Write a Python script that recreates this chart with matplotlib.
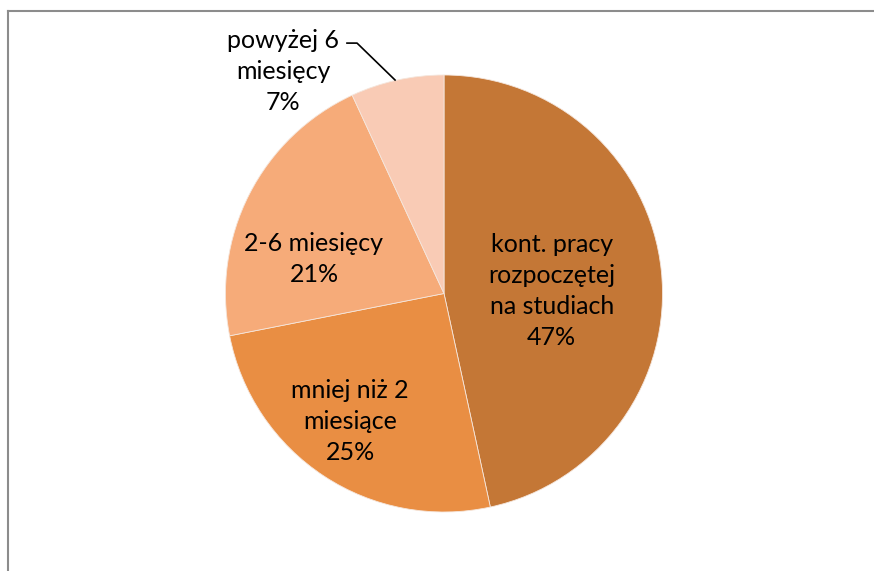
import matplotlib
matplotlib.use("Agg")
import matplotlib.pyplot as plt
from matplotlib.lines import Line2D

# --- data ---
labels = ["kont. pracy\nrozpoczętej\nna studiach", "mniej niż 2\nmiesiące", "2-6 miesięcy", "powyżej 6\nmiesięcy"]
values = [46.6, 25.3, 21.2, 6.9]
colors = ["#C47736", "#E98E43", "#F6AB79", "#F9CBB5"]

# label centres (pie radius = 1, centre at 0,0)
label_pos = [(0.493, 0.010), (-0.430, -0.588), (-0.595, 0.160), (-0.735, 1.016)]

fig = plt.figure(figsize=(8.74, 5.71), dpi=100)
ax = fig.add_axes([0, 0, 1, 1])

r_px = 218.5
cx, cy = 444, 293.5
ax.pie(values, colors=colors, startangle=90, counterclock=False, radius=1,
       wedgeprops={"edgecolor": "#f5e6dc", "linewidth": 0.6})
ax.set_aspect("auto")
ax.set_xlim(-cx / r_px, (874 - cx) / r_px)
ax.set_ylim(-(571 - cy) / r_px, cy / r_px)
ax.axis("off")

total = sum(values)
for lab, v, (x, y) in zip(labels, values, label_pos):
    ax.text(x, y, f"{lab}\n{v / total * 100:.0f}%", ha="center", va="center",
            fontsize=18, family=["Lato", "DejaVu Sans"], linespacing=1.42, color="black")

# leader line for the small slice
ax.plot([-0.444, -0.398, -0.224], [1.146, 1.146, 0.977], color="black", lw=1.2)

# chart frame (only left and top edges visible)
fig.add_artist(Line2D([7.5 / 874, 7.5 / 874], [0, 1 - 10.5 / 571], transform=fig.transFigure,
                      color="#8c8c8c", lw=1.5))
fig.add_artist(Line2D([7.5 / 874, 1], [1 - 10.5 / 571, 1 - 10.5 / 571], transform=fig.transFigure,
                      color="#8c8c8c", lw=1.5))

fig.savefig("out.png", dpi=100)
